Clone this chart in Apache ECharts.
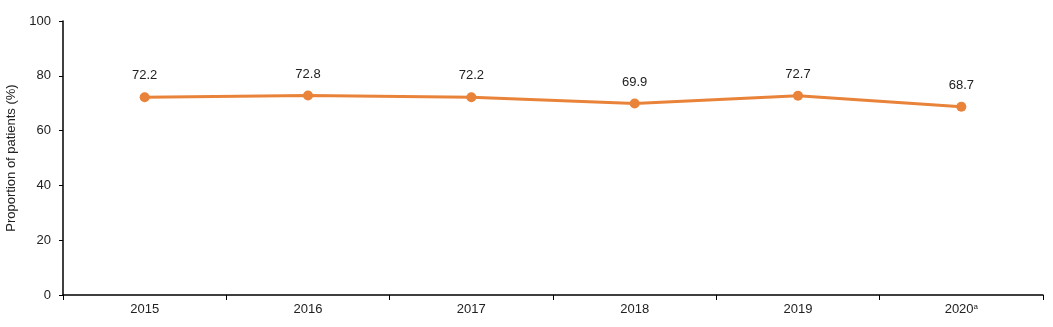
<!DOCTYPE html>
<html><head><meta charset="utf-8">
<script src="https://cdn.jsdelivr.net/npm/echarts@6/dist/echarts.min.js"></script>
<style>html,body{margin:0;padding:0;background:#fff}#c{width:1053px;height:327px}</style>
</head><body><div id="c"></div>
<script>
const categories = ['2015', '2016', '2017', '2018', '2019', '2020'];
const values = [72.2, 72.8, 72.2, 69.9, 72.7, 68.7];
const yTicks = [0, 20, 40, 60, 80, 100];
const chart = echarts.init(document.getElementById('c'));
const font = '"Liberation Sans", Arial, sans-serif';
chart.setOption({
  animation: false,
  grid: { left: 63, right: 10, top: 21, bottom: 32, outerBoundsMode: 'none', containLabel: false },
  xAxis: {
    type: 'category', data: categories, boundaryGap: true,
    axisLine: { lineStyle: { color: '#000', width: 1.5 } },
    axisTick: { show: true, length: 5, lineStyle: { color: '#000' } },
    axisLabel: {
      color: '#222', fontFamily: font, fontSize: 13, margin: 8,
      formatter: v => v === '2020' ? '2020{s|a}' : v,
      rich: { s: { fontSize: 8, verticalAlign: 'top', color: '#222', fontFamily: font, padding: [0,0,5,0] } }
    }
  },
  yAxis: {
    type: 'value', min: yTicks[0], max: yTicks[yTicks.length - 1], interval: 20,
    name: 'Proportion of patients (%)', nameLocation: 'middle', nameGap: 42, nameRotate: 90,
    nameTextStyle: { color: '#222', fontFamily: font, fontSize: 13 },
    axisLine: { show: true, lineStyle: { color: '#000', width: 1.5 } },
    axisTick: { show: true, length: 4, lineStyle: { color: '#000' } },
    axisLabel: { color: '#222', fontFamily: font, fontSize: 13, margin: 12 },
    splitLine: { show: false }
  },
  series: [{
    type: 'line', data: values,
    symbol: 'circle', symbolSize: 10,
    lineStyle: { color: '#E9833A', width: 3 },
    itemStyle: { color: '#E9833A' },
    label: { show: true, position: 'top', distance: 10, color: '#222', fontFamily: font, fontSize: 13, formatter: p => p.value.toFixed(1) }
  }]
});
</script></body></html>
